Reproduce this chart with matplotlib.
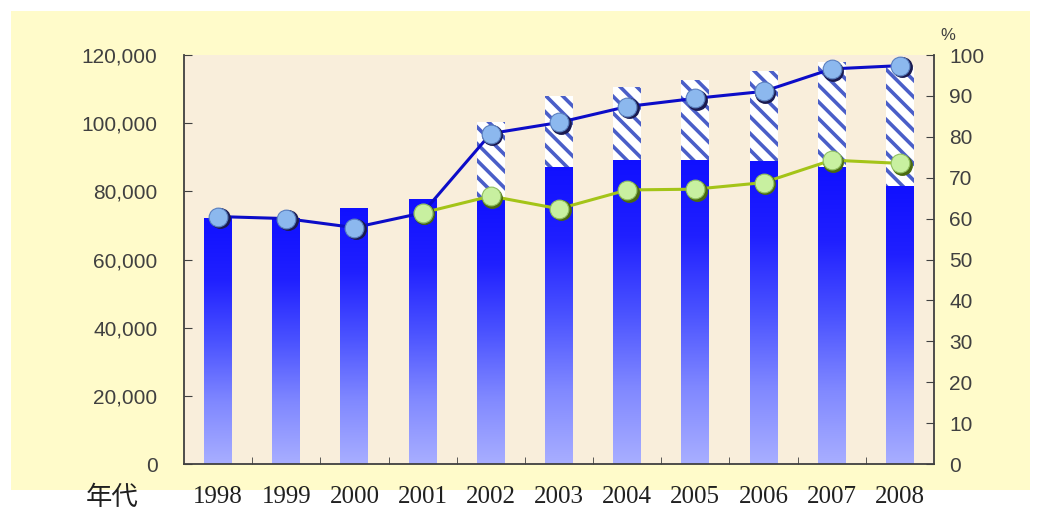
import matplotlib
matplotlib.use('Agg')
import matplotlib.pyplot as plt
import numpy as np
from matplotlib.colors import LinearSegmentedColormap
from matplotlib.patches import Rectangle
from matplotlib.transforms import offset_copy

years = ['1998', '1999', '2000', '2001', '2002', '2003', '2004', '2005', '2006', '2007', '2008']
# solid (gradient) part of each bar, left axis
solid = [72000, 72000, 75000, 77500, 78000, 87200, 89100, 89100, 89000, 87000, 81700]
# top of the hatched part (same as solid where there is no hatched part)
total = [72000, 72000, 75000, 77500, 100300, 108000, 110700, 112700, 115300, 118000, 116500]
# blue line, right axis (%)
blue_pct = [60.5, 60.0, 57.8, 61.4, 80.8, 83.5, 87.4, 89.4, 91.1, 96.6, 97.4]
# green line, right axis (%), from 2001
green_years = ['2001', '2002', '2003', '2004', '2005', '2006', '2007', '2008']
green_pct = [61.4, 65.5, 62.4, 67.0, 67.2, 68.8, 74.3, 73.5]

left_ticks = [0, 20000, 40000, 60000, 80000, 100000, 120000]
right_ticks = [0, 10, 20, 30, 40, 50, 60, 70, 80, 90, 100]

plt.rcParams['hatch.linewidth'] = 2.6

fig = plt.figure(figsize=(10.37, 5.11), dpi=100, facecolor='white')
fig.add_artist(Rectangle((11 / 1037, 21 / 511), 1019 / 1037, 479 / 511,
                         transform=fig.transFigure, facecolor='#fffbca',
                         edgecolor='none', zorder=-5))

ax = fig.add_axes([184 / 1037, 1 - 464 / 511, 750 / 1037, 409 / 511])
ax.set_facecolor('#f9eedb')

x = np.arange(len(years))
w = 0.41
cmap = LinearSegmentedColormap.from_list('bar', ['#a8aeff', '#8088ff', '#4a52ff', '#2020ff', '#1010ff'])
grad = np.linspace(0, 1, 256).reshape(-1, 1)
for i in range(len(years)):
    ax.imshow(grad, extent=[x[i] - w / 2, x[i] + w / 2, 0, solid[i]], origin='lower',
              cmap=cmap, aspect='auto', interpolation='bilinear', zorder=2)

extra = [t - s for t, s in zip(total, solid)]
ax.bar(x, extra, bottom=solid, width=w, color='white', edgecolor='#4a5ec8',
       hatch='\\\\', linewidth=0, zorder=2)

ax.set_xlim(-0.5, len(years) - 0.5)
ax.set_ylim(0, 120000)
ax.set_yticks(left_ticks)
ax.set_yticklabels(['{:,}'.format(v) for v in left_ticks])
ax.set_xticks(x)
ax.set_xticklabels(years, family='Liberation Serif', fontsize=18, color='#202020')
ax.set_xticks(np.arange(0.5, len(years) - 1, 1), minor=True)
ax.tick_params(axis='x', which='major', length=0, pad=16)
ax.tick_params(axis='x', which='minor', direction='in', length=5, color='#404040')
ax.tick_params(axis='y', direction='in', length=6, color='#404040', pad=19,
               labelsize=15, labelcolor='#404040')
for lab in ax.get_yticklabels():
    lab.set_family('Liberation Sans')
for s in ['top', 'right']:
    ax.spines[s].set_visible(False)
for s in ['left', 'bottom']:
    ax.spines[s].set_color('#404040')
    ax.spines[s].set_linewidth(1.3)

ax2 = ax.twinx()
ax2.set_ylim(0, 100)
ax2.set_yticks(right_ticks)
ax2.tick_params(axis='y', direction='in', length=6, color='#404040', pad=11,
                labelsize=15, labelcolor='#404040')
for lab in ax2.get_yticklabels():
    lab.set_family('Liberation Sans')
for s in ['top', 'left', 'bottom']:
    ax2.spines[s].set_visible(False)
ax2.spines['right'].set_color('#404040')
ax2.spines['right'].set_linewidth(1.3)

gx = [years.index(y) for y in green_years]
shadow = offset_copy(ax2.transData, fig=fig, x=1.6, y=-1.6, units='dots')

ax2.plot(x, blue_pct, color='#0c0cc8', linewidth=2.2, zorder=3)
ax2.plot(x, blue_pct, linestyle='none', marker='o', markersize=14,
         markerfacecolor='#1a1a50', markeredgecolor='#1a1a50', transform=shadow, zorder=4)
ax2.plot(x, blue_pct, linestyle='none', marker='o', markersize=13.5,
         markerfacecolor='#8cb8ee', markeredgecolor='#5a80c0', markeredgewidth=0.8, zorder=5)

ax2.plot(gx, green_pct, color='#a4c418', linewidth=2.2, zorder=3)
ax2.plot(gx, green_pct, linestyle='none', marker='o', markersize=14,
         markerfacecolor='#4a6a10', markeredgecolor='#4a6a10', transform=shadow, zorder=4)
ax2.plot(gx, green_pct, linestyle='none', marker='o', markersize=13.5,
         markerfacecolor='#c8f0a0', markeredgecolor='#90c060', markeredgewidth=0.8, zorder=5)

fig.text(948 / 1037, 1 - 35 / 511, '%', fontsize=12, color='#404040',
         family='Liberation Sans', ha='center', va='center')
fig.text(112 / 1037, 1 - 497 / 511, '年代', fontsize=19, color='#202020',
         family=['Noto Sans CJK TC', 'DejaVu Sans'], ha='center', va='center')

fig.savefig('out.png', dpi=100, facecolor='white')
